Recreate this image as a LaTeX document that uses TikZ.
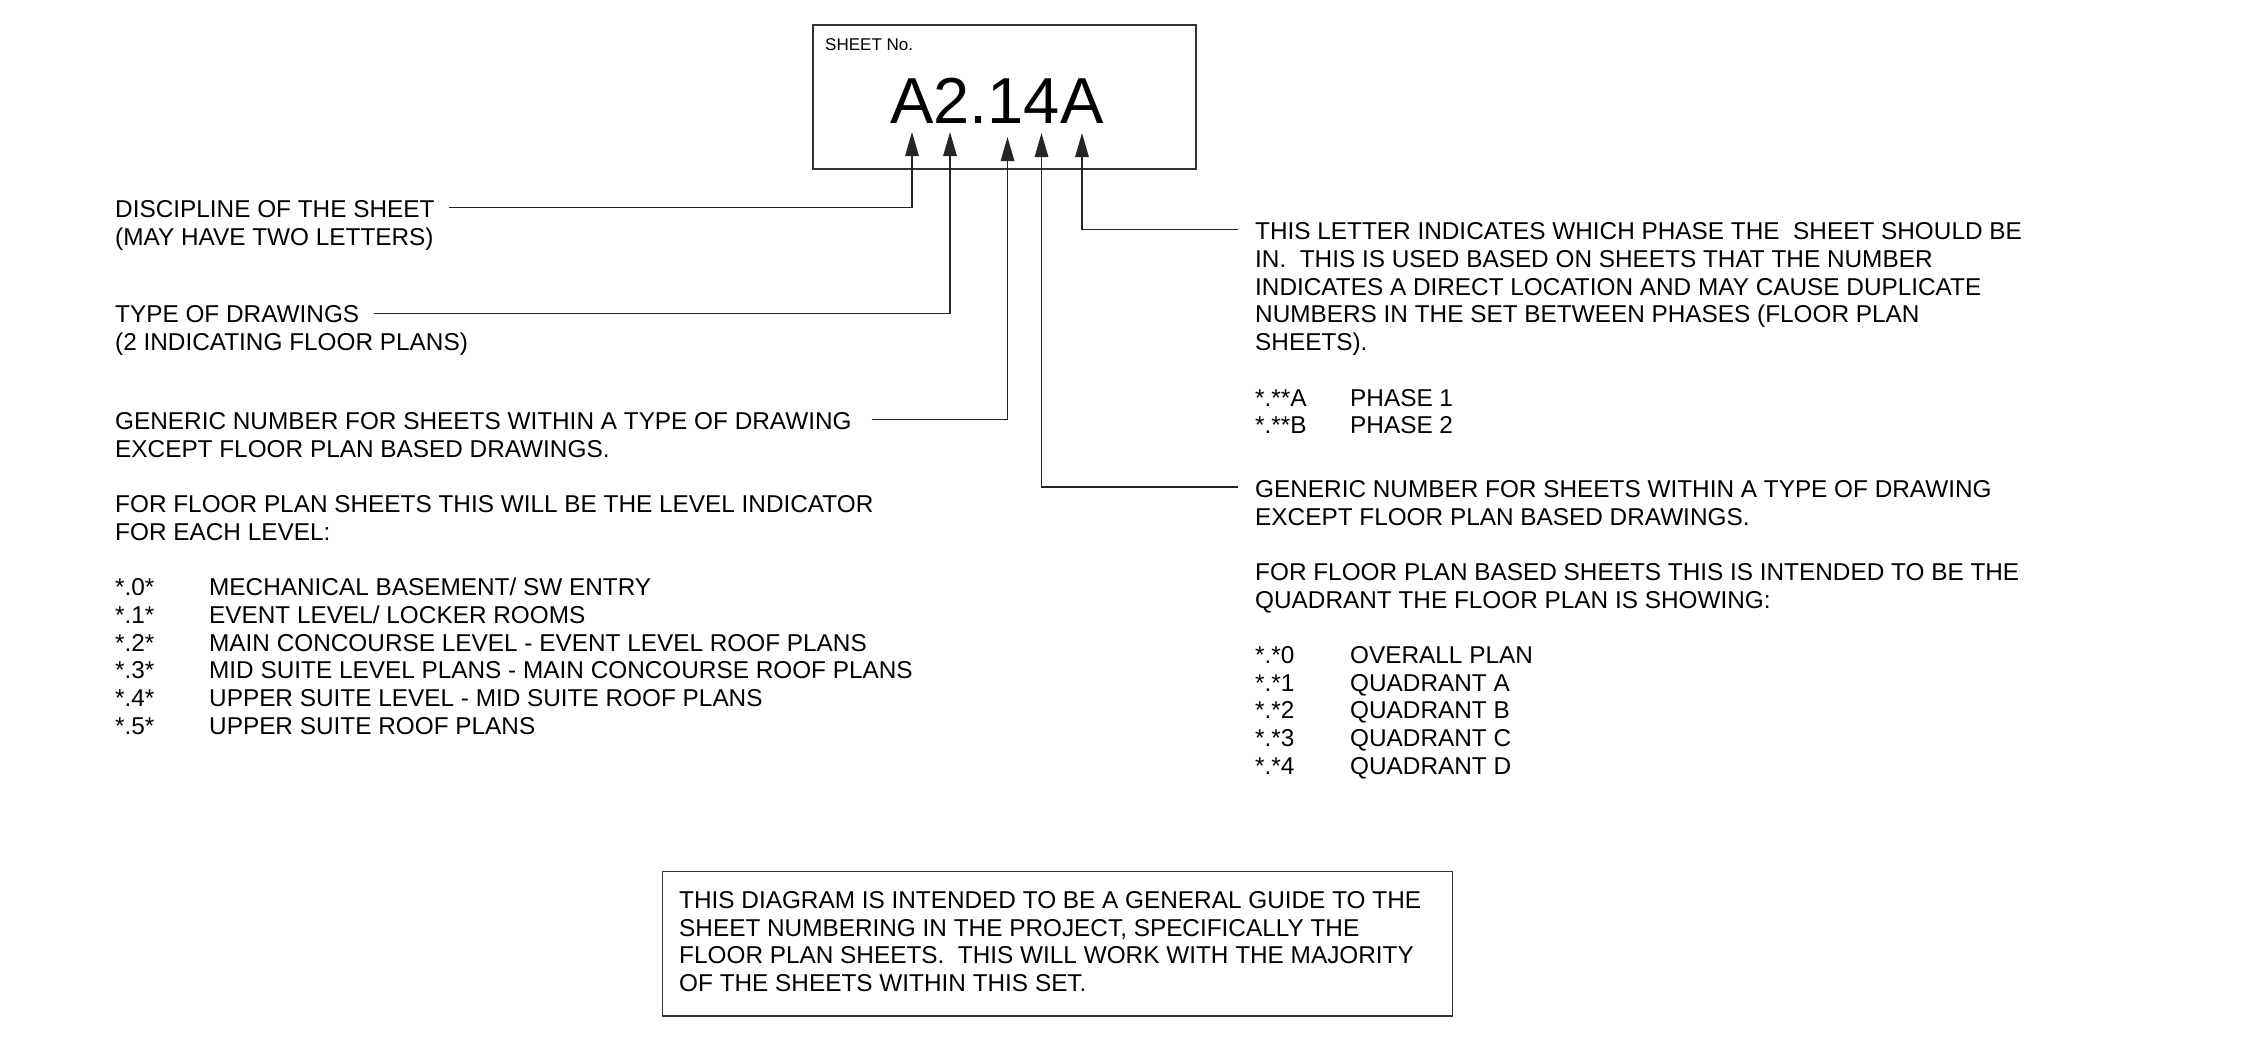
\documentclass[tikz,border=0pt]{standalone}
\usepackage{fontspec}
\setmainfont{Liberation Sans}
\usetikzlibrary{arrows.meta}
\frenchspacing
\newcommand\bodyfont{\fontsize{24.35}{27.7}\selectfont}
\newcommand\wideline[1]{\multicolumn{2}{@{}l@{}}{#1}}
\begin{document}
\begin{tikzpicture}[x=1pt,y=-1pt,
  txt/.style={inner sep=0pt, anchor=north west, font=\bodyfont},
  lead/.style={draw=black!85, line width=1.5pt, -{Triangle[length=24pt,width=13.5pt]}},
  frame/.style={draw=black!80, line width=1.6pt, inner sep=0pt, anchor=north west}]
\useasboundingbox (0,0) rectangle (2259,1037);

% sheet number box
\node[frame, minimum width=383pt, minimum height=144pt] (sheetbox) at (812,24) {};
\node[inner sep=0pt, anchor=base west, font=\fontsize{17}{20}\selectfont] (sheetlbl) at (825,50.6) {SHEET No.};
\node[inner sep=0pt, anchor=base west, font=\fontsize{65}{70}\selectfont] (sheetnum) at (890,123.3) {A2.14A};

% arrow tips
\coordinate (t1) at (912,132);
\coordinate (t2) at (950,132);
\coordinate (t3) at (1007.5,137);
\coordinate (t4) at (1041.5,133);
\coordinate (t5) at (1082,133);

% left texts
\node[txt] (disc) at (115,198) {\begin{tabular}{@{}l@{}}DISCIPLINE OF THE SHEET\\(MAY HAVE TWO LETTERS)\end{tabular}};
\node[txt] (type) at (115,302.8) {\begin{tabular}{@{}l@{}}TYPE OF DRAWINGS\\(2 INDICATING FLOOR PLANS)\end{tabular}};
\node[txt] (genL) at (115,409.8) {\begin{tabular}{@{}p{94pt}@{}l@{}}
\wideline{GENERIC NUMBER FOR SHEETS WITHIN A TYPE OF DRAWING}\\
\wideline{EXCEPT FLOOR PLAN BASED DRAWINGS.}\\
 & \\
\wideline{FOR FLOOR PLAN SHEETS THIS WILL BE THE LEVEL INDICATOR}\\
\wideline{FOR EACH LEVEL:}\\
 & \\
{}*.0* & MECHANICAL BASEMENT/ SW ENTRY\\
{}*.1* & EVENT LEVEL/ LOCKER ROOMS\\
{}*.2* & MAIN CONCOURSE LEVEL - EVENT LEVEL ROOF PLANS\\
{}*.3* & MID SUITE LEVEL PLANS - MAIN CONCOURSE ROOF PLANS\\
{}*.4* & UPPER SUITE LEVEL - MID SUITE ROOF PLANS\\
{}*.5* & UPPER SUITE ROOF PLANS
\end{tabular}};

% right texts
\node[txt] (phase) at (1255,220.3) {\begin{tabular}{@{}p{95pt}@{}l@{}}
\wideline{THIS LETTER INDICATES WHICH PHASE THE~ SHEET SHOULD BE}\\
\wideline{IN.~ THIS IS USED BASED ON SHEETS THAT THE NUMBER}\\
\wideline{INDICATES A DIRECT LOCATION AND MAY CAUSE DUPLICATE}\\
\wideline{NUMBERS IN THE SET BETWEEN PHASES (FLOOR PLAN}\\
\wideline{SHEETS).}\\
 & \\
{}*.**A & PHASE 1\\
{}*.**B & PHASE 2
\end{tabular}};
\node[txt] (genR) at (1255,477.7) {\begin{tabular}{@{}p{95pt}@{}l@{}}
\wideline{GENERIC NUMBER FOR SHEETS WITHIN A TYPE OF DRAWING}\\
\wideline{EXCEPT FLOOR PLAN BASED DRAWINGS.}\\
 & \\
\wideline{FOR FLOOR PLAN BASED SHEETS THIS IS INTENDED TO BE THE}\\
\wideline{QUADRANT THE FLOOR PLAN IS SHOWING:}\\
 & \\
{}*.*0 & OVERALL PLAN\\
{}*.*1 & QUADRANT A\\
{}*.*2 & QUADRANT B\\
{}*.*3 & QUADRANT C\\
{}*.*4 & QUADRANT D
\end{tabular}};

% leader line ends
\coordinate (e1) at (449,207.5);
\coordinate (e2) at (373.5,313.3);
\coordinate (e3) at (871.5,419.5);
\coordinate (e4) at (1238,487);
\coordinate (e5) at (1238,229.5);

\draw[lead] (e1) -| (t1);
\draw[lead] (e2) -| (t2);
\draw[lead] (e3) -| (t3);
\draw[lead] (e4) -| (t4);
\draw[lead] (e5) -| (t5);

% note box
\node[frame, minimum width=790pt, minimum height=144.5pt] (notebox) at (661.5,870.5) {};
\node[txt] (note) at (679,888.8) {\begin{tabular}{@{}l@{}}
THIS DIAGRAM IS INTENDED TO BE A GENERAL GUIDE TO THE\\
SHEET NUMBERING IN THE PROJECT, SPECIFICALLY THE\\
FLOOR PLAN SHEETS.~ THIS WILL WORK WITH THE MAJORITY\\
OF THE SHEETS WITHIN THIS SET.
\end{tabular}};
\end{tikzpicture}
\end{document}
